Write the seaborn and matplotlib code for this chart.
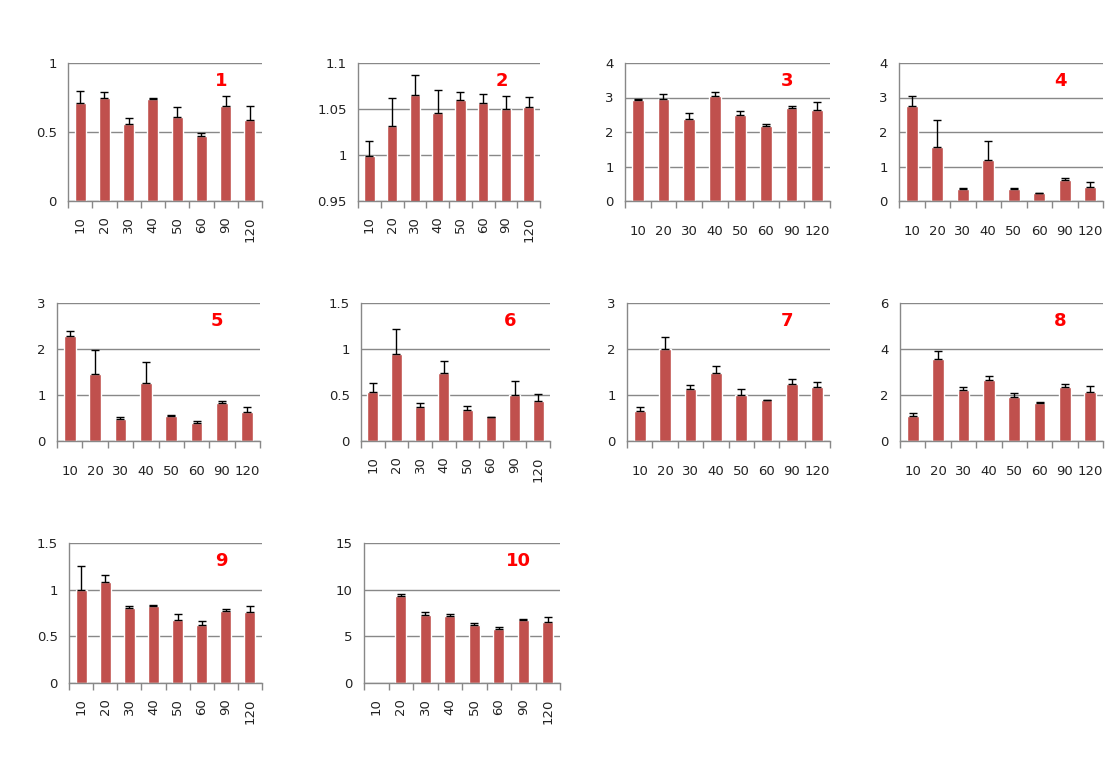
import numpy as np
import pandas as pd
import matplotlib
matplotlib.use("Agg")
import matplotlib.pyplot as plt
import seaborn as sns

## Data
times = ["10", "20", "30", "40", "50", "60", "90", "120"]

mean_1 = [0.71, 0.75, 0.56, 0.74, 0.61, 0.47, 0.69, 0.59]
err_1 = [0.09, 0.04, 0.04, 0.01, 0.07, 0.02, 0.07, 0.10]
mean_2 = [0.999, 1.032, 1.065, 1.046, 1.060, 1.057, 1.050, 1.052]
err_2 = [0.016, 0.030, 0.022, 0.025, 0.008, 0.009, 0.014, 0.011]
mean_3 = [2.92, 2.95, 2.37, 3.05, 2.48, 2.18, 2.70, 2.64]
err_3 = [0.05, 0.15, 0.17, 0.12, 0.12, 0.05, 0.04, 0.23]
mean_4 = [2.75, 1.57, 0.35, 1.20, 0.35, 0.23, 0.61, 0.41]
err_4 = [0.28, 0.77, 0.02, 0.53, 0.02, 0.01, 0.07, 0.13]
mean_5 = [2.28, 1.45, 0.47, 1.27, 0.55, 0.40, 0.82, 0.62]
err_5 = [0.12, 0.53, 0.05, 0.45, 0.01, 0.04, 0.04, 0.12]
mean_6 = [0.53, 0.95, 0.37, 0.74, 0.34, 0.26, 0.50, 0.43]
err_6 = [0.10, 0.27, 0.04, 0.13, 0.04, 0.005, 0.15, 0.08]
mean_7 = [0.65, 2.00, 1.13, 1.48, 1.00, 0.89, 1.25, 1.18]
err_7 = [0.09, 0.27, 0.09, 0.14, 0.12, 0.005, 0.09, 0.11]
mean_8 = [1.10, 3.55, 2.20, 2.65, 1.92, 1.65, 2.35, 2.15]
err_8 = [0.12, 0.35, 0.13, 0.17, 0.16, 0.03, 0.13, 0.23]
mean_9 = [1.00, 1.08, 0.80, 0.83, 0.68, 0.62, 0.77, 0.76]
err_9 = [0.25, 0.08, 0.02, 0.01, 0.06, 0.04, 0.02, 0.06]
mean_10 = [np.nan, 9.3, 7.3, 7.2, 6.2, 5.8, 6.7, 6.5]
err_10 = [np.nan, 0.25, 0.35, 0.2, 0.2, 0.2, 0.15, 0.6]

panels = [
    ("1", mean_1, err_1, (0, 1), [0, 0.5, 1], True),
    ("2", mean_2, err_2, (0.95, 1.1), [0.95, 1, 1.05, 1.1], True),
    ("3", mean_3, err_3, (0, 4), [0, 1, 2, 3, 4], False),
    ("4", mean_4, err_4, (0, 4), [0, 1, 2, 3, 4], False),
    ("5", mean_5, err_5, (0, 3), [0, 1, 2, 3], False),
    ("6", mean_6, err_6, (0, 1.5), [0, 0.5, 1, 1.5], True),
    ("7", mean_7, err_7, (0, 3), [0, 1, 2, 3], False),
    ("8", mean_8, err_8, (0, 6), [0, 2, 4, 6], False),
    ("9", mean_9, err_9, (0, 1.5), [0, 0.5, 1, 1.5], True),
    ("10", mean_10, err_10, (0, 15), [0, 5, 10, 15], True),
]

# axes boxes in pixels: left, right, top, bottom
boxes = [
    (68, 262, 63, 201), (358, 540, 63, 201), (625, 830, 63, 201), (899, 1103, 63, 201),
    (57, 260, 303, 441), (361, 550, 303, 441), (627, 830, 303, 441), (900, 1103, 303, 441),
    (69, 262, 543, 683), (364, 560, 543, 683),
]

W, H = 1115, 764
BAR = "#C0504D"
GRID = "#888888"

sns.set_theme(style="white")
plt.rcParams["font.family"] = ["DejaVu Sans"]

fig = plt.figure(figsize=(W / 100, H / 100), dpi=100)

def fmt_tick(v):
    return f"{v:g}"

for (label, means, errs, ylim, yticks, rotate), (l, r, t, b) in zip(panels, boxes):
    ax = fig.add_axes([l / W, 1 - b / H, (r - l) / W, (b - t) / H])
    df = pd.DataFrame({"time": times, "value": means})
    sns.barplot(data=df, x="time", y="value", order=times, color=BAR,
                width=0.46, saturation=1, ax=ax, errorbar=None)
    lower = np.zeros(len(errs))
    ax.errorbar(np.arange(len(times)), means, yerr=[lower, errs], fmt="none",
                ecolor="black", elinewidth=1, capsize=3, capthick=1)
    ax.set_ylim(*ylim)
    ax.set_yticks(yticks)
    ax.set_yticklabels([fmt_tick(v) for v in yticks])
    ax.set_xlim(-0.5, len(times) - 0.5)
    ax.yaxis.grid(True, color=GRID, linewidth=1)
    ax.set_axisbelow(True)
    for s in ["top", "right"]:
        ax.spines[s].set_visible(False)
    for s in ["left", "bottom"]:
        ax.spines[s].set_color(GRID)
        ax.spines[s].set_linewidth(1)
    ax.set_xlabel("")
    ax.set_ylabel("")
    # category-boundary tick marks as on the Excel axis
    ax.set_xticks(np.arange(-0.5, len(times)), minor=True)
    ax.tick_params(axis="x", which="minor", length=5, color=GRID, width=1, direction="out", bottom=True)
    ax.tick_params(axis="x", which="major", length=0, labelsize=9.5, colors="#222222",
                   pad=11 if rotate else 17)
    ax.tick_params(axis="y", length=0, labelsize=9.5, colors="#222222", pad=8)
    if rotate:
        plt.setp(ax.get_xticklabels(), rotation=90, va="top", ha="center")
    ax.text(0.79, 0.87, label, transform=ax.transAxes, color="red",
            fontsize=13, fontweight="bold", ha="center", va="center")

fig.savefig("out.png", dpi=100)
